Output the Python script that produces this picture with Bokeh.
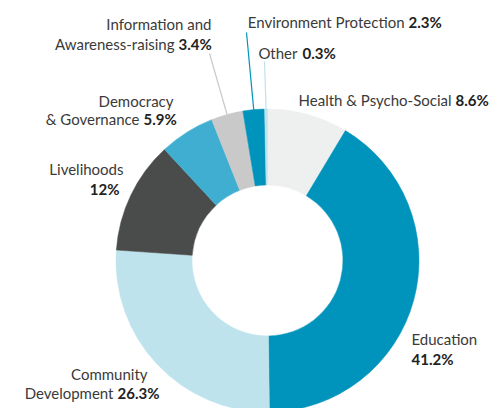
import math
from bokeh.plotting import figure
from bokeh.models import Range1d, ColumnDataSource
from bokeh.core.properties import value
from bokeh.embed import file_html
from bokeh.resources import INLINE

# ---- data ----
categories = ["Health & Psycho-Social", "Education", "Community Development",
              "Livelihoods", "Democracy & Governance",
              "Information and Awareness-raising", "Environment Protection", "Other"]
shares = [8.6, 41.2, 26.3, 12.0, 5.9, 3.4, 2.3, 0.3]
share_labels = ["8.6%", "41.2%", "26.3%", "12%", "5.9%", "3.4%", "2.3%", "0.3%"]
colors = ["#eef0ef", "#0094bd", "#bfe3ed", "#4a4b4b", "#40aed0",
          "#c8c9c8", "#0094bd", "#bfe3ed"]

# ---- layout (pixel-like coordinates, y up) ----
PAGE_H = 408
def Y(py):
    return PAGE_H - py

cx, cy = 267, Y(260)
R_OUT, R_IN = 151.5, 75.5

p = figure(width=503, height=408, x_range=Range1d(0, 503), y_range=Range1d(0, 408),
           output_backend="svg", toolbar_location=None, min_border=0)
p.axis.visible = False
p.grid.visible = False
p.outline_line_color = None
p.background_fill_color = "white"

total = sum(shares)
starts, ends, mids = [], [], []
cum = 0.0
for s in shares:
    a0 = math.pi / 2 - 2 * math.pi * cum / total
    cum += s
    a1 = math.pi / 2 - 2 * math.pi * cum / total
    starts.append(a0)
    ends.append(a1)
    mids.append((a0 + a1) / 2)

src = ColumnDataSource(dict(start=starts, end=ends, color=colors, cat=categories))
p.annular_wedge(x=cx, y=cy, inner_radius=R_IN, outer_radius=R_OUT,
                start_angle="start", end_angle="end", direction="clock",
                fill_color="color", line_color="color", line_width=0.5, source=src)

# leader lines for the small slices (Information, Environment, Other)
leader = {5: (209, 53), 6: (246, 32), 7: (264, 61)}
for i, (lx, ly) in leader.items():
    ex = cx + R_OUT * math.cos(mids[i])
    ey = cy + R_OUT * math.sin(mids[i])
    p.segment(x0=lx, y0=Y(ly), x1=ex, y1=ey, line_color=colors[i], line_width=1.2)

FONT = value("Lato")
FS = "15px"
TXT = "#3a3a3a"

def reg(text, x, y, align):
    p.text(x=[x], y=[Y(y)], text=[text], text_font=FONT, text_font_size=FS,
           text_color=TXT, text_align=align, text_baseline="middle")

def bold(text, x, y, align):
    p.text(x=[x], y=[Y(y)], text=[text], text_font=FONT, text_font_size=FS,
           text_font_style="bold", text_color="#222222", text_align=align,
           text_baseline="middle")

# Health
reg("Health & Psycho-Social", 451, 99, "right"); bold(share_labels[0], 455, 99, "left")
# Education
reg("Education", 411, 338, "left"); bold(share_labels[1], 411, 358, "left")
# Community Development
reg("Community", 147, 373, "right")
reg("Development", 113, 392, "right"); bold(share_labels[2], 117, 392, "left")
# Livelihoods
reg("Livelihoods", 123, 168, "right"); bold(share_labels[3], 119, 188, "right")
# Democracy
reg("Democracy", 173, 100, "right")
reg("& Governance", 139, 118, "right"); bold(share_labels[4], 143, 118, "left")
# Information
reg("Information and", 211, 23, "right")
reg("Awareness-raising", 174, 43, "right"); bold(share_labels[5], 178, 43, "left")
# Environment
reg("Environment Protection", 404, 21, "right"); bold(share_labels[6], 408, 21, "left")
# Other
reg("Other", 297, 52, "right"); bold(share_labels[7], 302, 52, "left")

open("out.html", "w").write(file_html(p, INLINE))
